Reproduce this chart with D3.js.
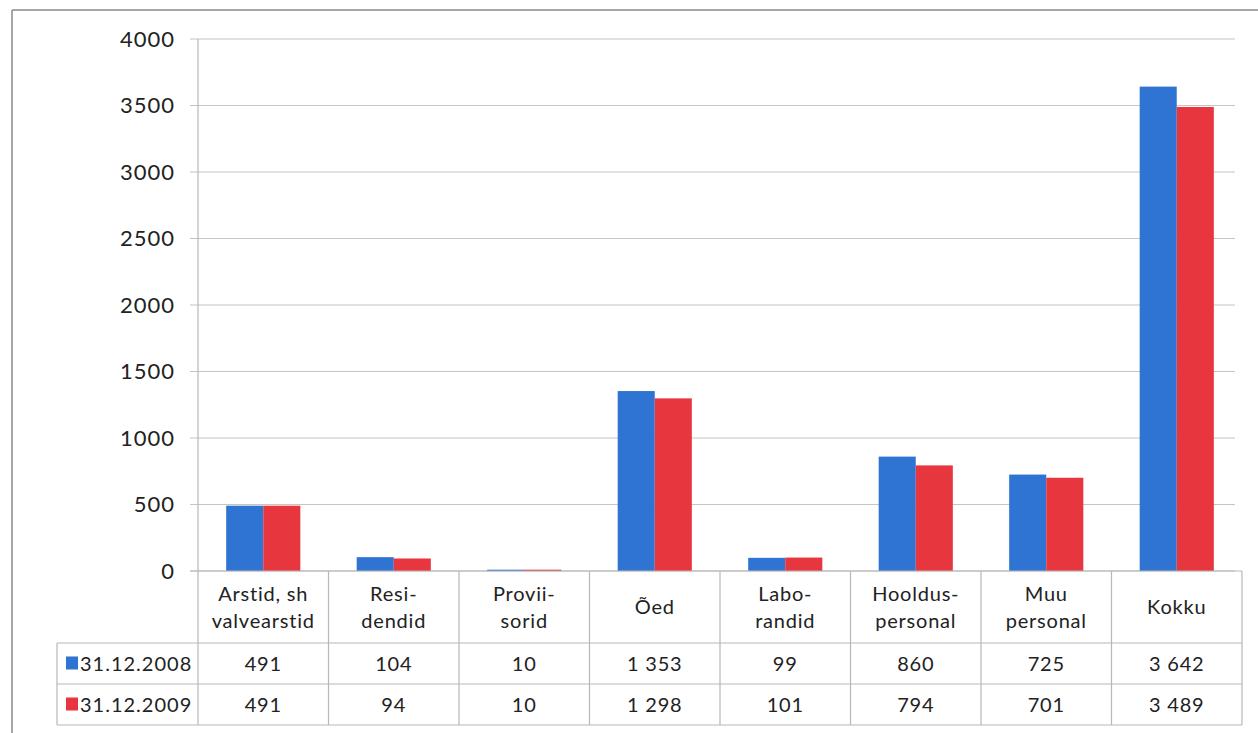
<!DOCTYPE html>
<html>
<head>
<meta charset="utf-8" />
<title>Personal</title>
<script src="https://cdn.jsdelivr.net/npm/d3@7"></script>
<style>
  body { margin: 0; background: #fff; }
  text { font-family: Lato, "Open Sans", sans-serif; fill: #222; }
</style>
</head>
<body>
<div id="vis"></div>
<script>
// data
var categories = ["Arstid, sh valvearstid", "Resi-dendid", "Provii-sorid", "Õed", "Labo-randid", "Hooldus-personal", "Muu personal", "Kokku"];
var catLines = [["Arstid, sh", "valvearstid"], ["Resi-", "dendid"], ["Provii-", "sorid"], ["Õed"], ["Labo-", "randid"], ["Hooldus-", "personal"], ["Muu", "personal"], ["Kokku"]];
var seriesNames = ["31.12.2008", "31.12.2009"];
var values2008 = [491, 104, 10, 1353, 99, 860, 725, 3642];
var values2009 = [491, 94, 10, 1298, 101, 794, 701, 3489];
var tableText2008 = ["491", "104", "10", "1 353", "99", "860", "725", "3 642"];
var tableText2009 = ["491", "94", "10", "1 298", "101", "794", "701", "3 489"];
var yTicks = [0, 500, 1000, 1500, 2000, 2500, 3000, 3500, 4000];
var colors = ["#2f74d2", "#e8363e"];

var w = 1258, h = 733;
var plotLeft = 198, plotRight = 1242, plotTop = 39, base = 571;
var rowLines = [571, 643, 684, 725];
var legendLeft = 57;
var lineCol = "#b8b8b8";

var svg = d3.select("#vis").append("svg").attr("width", w).attr("height", h);

// outer frame
svg.append("line").attr("x1", 12).attr("x2", w).attr("y1", 10).attr("y2", 10)
  .attr("stroke", "#8a8a8a").attr("stroke-width", 1.5);
svg.append("line").attr("x1", 12).attr("x2", 12).attr("y1", 10).attr("y2", h)
  .attr("stroke", "#8a8a8a").attr("stroke-width", 1.5);

var y = d3.scaleLinear().domain([0, 4000]).range([base, plotTop]);
var x = d3.scaleBand().domain(categories).range([plotLeft, plotRight]);
var x1 = d3.scaleBand().domain(seriesNames).range([0, x.bandwidth()]).paddingOuter(0.76);

// grid
svg.selectAll(".grid").data(yTicks).enter().append("line")
  .attr("x1", plotLeft - 8).attr("x2", 1235)
  .attr("y1", function(d) { return y(d); }).attr("y2", function(d) { return y(d); })
  .attr("stroke", "#c8c4c0").attr("stroke-width", 1.2);

// y axis
var yAxis = d3.axisLeft(y).tickValues(yTicks).tickSize(0).tickPadding(23).tickFormat(d3.format("d"));
var gy = svg.append("g").attr("transform", "translate(" + plotLeft + ",0)").call(yAxis);
gy.select(".domain").remove();
gy.selectAll("text").style("font-size", "22px").style("fill", "#222")
  .style("font-family", "Lato, sans-serif").style("letter-spacing", "1px");

svg.append("line").attr("x1", plotLeft).attr("x2", plotLeft).attr("y1", plotTop).attr("y2", rowLines[3])
  .attr("stroke", lineCol).attr("stroke-width", 1.2);

// bars
var data = categories.map(function(c, i) {
  return [{ s: seriesNames[0], v: values2008[i] }, { s: seriesNames[1], v: values2009[i] }];
});
var groups = svg.selectAll(".grp").data(data).enter().append("g")
  .attr("transform", function(d, i) { return "translate(" + x(categories[i]) + ",0)"; });
groups.selectAll("rect").data(function(d) { return d; }).enter().append("rect")
  .attr("x", function(d) { return x1(d.s); })
  .attr("width", x1.bandwidth())
  .attr("y", function(d) { return y(d.v); })
  .attr("height", function(d) { return base - y(d.v); })
  .attr("fill", function(d, i) { return colors[i]; });

// table lines
svg.selectAll(".hrow").data(rowLines).enter().append("line")
  .attr("x1", function(d, i) { return i === 0 ? plotLeft - 8 : legendLeft; })
  .attr("x2", plotRight)
  .attr("y1", function(d) { return d; }).attr("y2", function(d) { return d; })
  .attr("stroke", lineCol).attr("stroke-width", 1.2);
svg.append("line").attr("x1", legendLeft).attr("x2", legendLeft).attr("y1", rowLines[1]).attr("y2", rowLines[3])
  .attr("stroke", lineCol).attr("stroke-width", 1.2);
svg.selectAll(".vcol").data(categories).enter().append("line")
  .attr("x1", function(d) { return x(d) + x.bandwidth(); })
  .attr("x2", function(d) { return x(d) + x.bandwidth(); })
  .attr("y1", base).attr("y2", rowLines[3])
  .attr("stroke", lineCol).attr("stroke-width", 1.2);

// category labels
var lab = svg.selectAll(".cat").data(categories).enter().append("text")
  .attr("text-anchor", "middle").style("font-size", "20px").style("letter-spacing", "0.8px");
lab.each(function(d, i) {
  var lines = catLines[i];
  var t = d3.select(this);
  var y0 = lines.length === 1 ? 614 : 601;
  lines.forEach(function(l, j) {
    t.append("tspan").attr("x", x(d) + x.bandwidth() / 2).attr("y", y0 + j * 27).text(l);
  });
});

// table values
[tableText2008, tableText2009].forEach(function(row, r) {
  var yy = (rowLines[r + 1] + rowLines[r + 2]) / 2 + 7;
  svg.selectAll(".val" + r).data(row).enter().append("text")
    .attr("text-anchor", "middle").style("font-size", "20px").style("letter-spacing", "0.8px")
    .attr("x", function(d, i) { return x(categories[i]) + x.bandwidth() / 2; })
    .attr("y", yy).text(function(d) { return d; });
  svg.append("rect").attr("x", 66).attr("y", yy - 14).attr("width", 12).attr("height", 13)
    .attr("fill", colors[r]);
  svg.append("text").attr("x", 80).attr("y", yy).style("font-size", "20px")
    .style("letter-spacing", "1px").text(seriesNames[r]);
});
</script>
</body>
</html>
